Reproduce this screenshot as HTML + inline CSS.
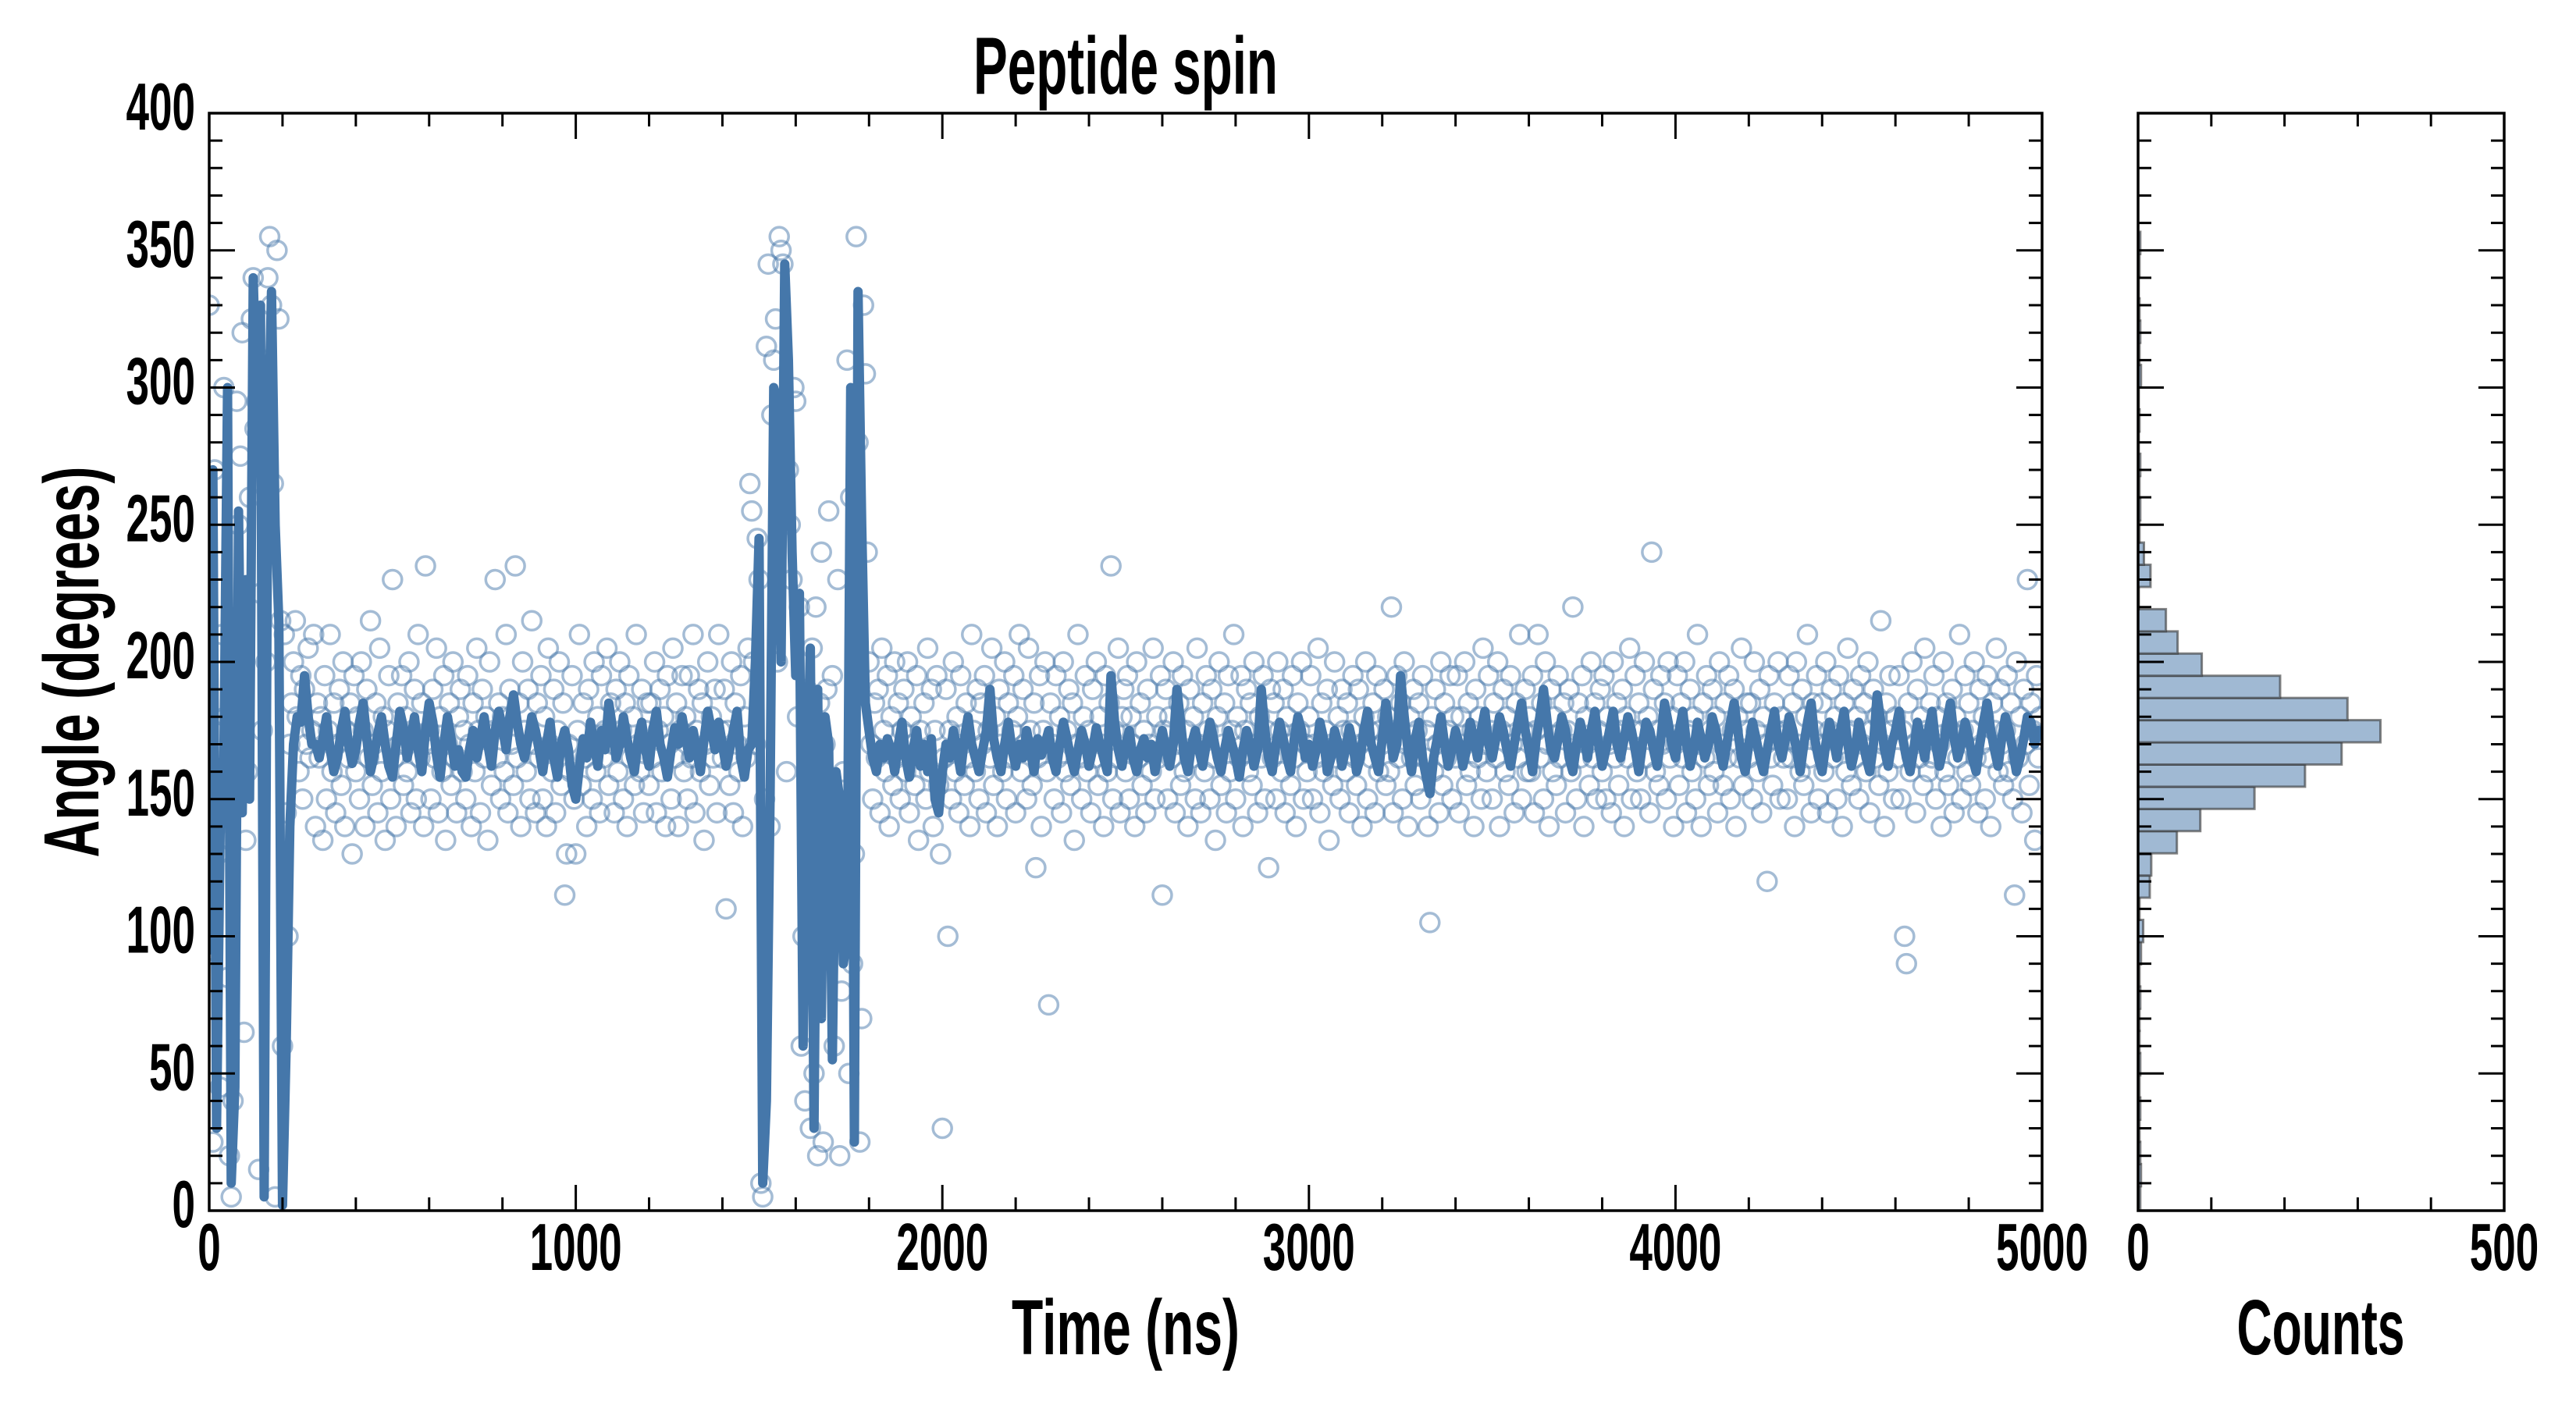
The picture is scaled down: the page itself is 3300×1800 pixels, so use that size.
<!DOCTYPE html>
<html><head><meta charset="utf-8"><style>
html,body{margin:0;padding:0;background:#fff;}
svg{display:block;}
text{font-family:"Liberation Sans Narrow","Liberation Sans",sans-serif;font-weight:bold;fill:#000;}
</style></head><body>
<svg id="chart" width="3300" height="1800" viewBox="0 0 3300 1800" xmlns="http://www.w3.org/2000/svg">
<defs><clipPath id="clipMain"><rect x="268" y="145" width="2348" height="1406"/></clipPath></defs>
<rect x="0" y="0" width="3300" height="1800" fill="#fff"/>
<g id="scatter" clip-path="url(#clipMain)"></g>
<g id="line" clip-path="url(#clipMain)"></g>
<g id="hist"></g>
<g id="axes"></g>
<text x="1442" y="120" font-size="104" text-anchor="middle" textLength="390" lengthAdjust="spacingAndGlyphs">Peptide spin</text>
<text x="1442" y="1735" font-size="100" text-anchor="middle" textLength="292" lengthAdjust="spacingAndGlyphs">Time (ns)</text>
<text x="2973" y="1735" font-size="100" text-anchor="middle" textLength="215" lengthAdjust="spacingAndGlyphs">Counts</text>
<text transform="translate(126,848) rotate(-90)" x="0" y="0" font-size="100" text-anchor="middle" textLength="501" lengthAdjust="spacingAndGlyphs">Angle (degrees)</text>
</svg>
<script>
const scatterStart = 0;
const scatterStep = 5;
const scatterValues = [
330,95,25,270,140,130,45,210,300,180,85,20,5,40,165,295,250,275,320,65,
135,160,260,325,340,285,295,15,225,175,310,200,340,355,330,265,5,350,325,215,
60,210,145,100,170,185,200,215,180,160,195,150,190,170,205,165,175,210,140,185,
165,180,135,195,150,175,210,160,185,145,170,190,155,200,140,175,165,185,130,195,
160,180,150,200,175,140,190,165,215,155,170,185,145,205,160,180,135,175,195,150,
230,165,140,185,170,195,155,180,160,200,145,175,190,150,210,165,185,140,235,170,
175,150,190,165,205,145,180,160,195,135,170,185,155,200,165,145,180,190,160,175,
150,195,170,140,185,160,205,175,145,190,165,180,135,200,155,175,230,165,185,150,
180,160,210,145,190,170,155,235,165,185,140,200,175,160,190,150,215,170,145,185,
165,195,150,180,140,205,170,160,190,145,175,200,155,185,115,130,170,160,195,150,
130,175,210,155,185,165,140,190,170,150,200,160,180,145,195,165,175,205,155,185,
170,145,190,160,200,175,150,185,140,195,165,180,155,210,170,160,190,145,175,185,
155,185,165,200,145,175,190,160,180,140,195,170,150,205,165,185,140,175,195,160,
180,150,195,165,210,145,175,190,160,185,135,170,200,155,180,165,190,145,210,175,
165,190,110,175,155,200,145,185,170,160,195,140,180,165,205,265,255,200,170,245,
230,10,5,150,315,345,140,290,310,325,200,355,350,345,260,160,270,250,230,300,
295,180,220,60,100,40,190,140,30,205,50,220,20,185,240,25,170,190,255,100,
195,60,150,230,20,80,160,110,310,50,260,90,130,355,280,25,70,330,305,240,
200,170,150,185,165,190,145,205,175,160,195,140,180,155,200,165,185,150,175,190,
160,200,145,180,170,155,195,135,175,165,185,150,205,160,190,140,175,195,155,130,
30,165,190,100,175,150,200,160,180,145,195,170,155,185,165,140,210,175,160,190,
150,185,170,195,145,175,165,205,155,180,140,190,170,160,200,150,185,165,175,195,
145,180,210,160,190,170,150,205,175,155,185,125,165,195,140,175,200,160,75,185,
170,150,195,165,180,145,200,160,175,190,155,185,135,170,210,165,150,180,195,160,
175,145,190,165,200,155,180,170,140,195,160,185,235,150,175,165,205,145,180,190,
160,195,150,180,170,140,200,165,185,155,175,145,190,170,160,205,150,180,165,195,
115,175,190,150,180,165,200,145,170,185,155,195,160,175,140,190,165,180,150,205,
170,145,185,160,195,175,150,190,165,135,180,200,155,170,185,145,195,160,175,210,
150,180,165,195,140,175,190,160,185,155,200,170,145,180,165,195,150,175,125,190,
165,185,150,200,175,160,190,145,180,170,155,195,165,140,185,175,200,150,170,160,
180,195,150,170,165,205,145,185,160,175,190,135,170,155,200,165,180,150,190,175,
160,185,145,175,195,165,155,190,170,140,180,200,150,175,165,185,145,195,160,175,
170,190,155,180,160,220,145,175,195,165,185,150,200,170,140,180,165,190,155,175,
185,150,195,165,175,140,105,180,160,190,170,145,200,155,185,165,175,195,150,180,
165,195,145,180,170,200,155,185,160,175,140,190,165,180,150,205,170,160,195,175,
150,185,165,200,140,175,190,160,180,155,195,170,145,185,165,210,150,175,190,160,
180,160,195,145,175,210,165,185,150,200,170,140,190,160,180,155,195,165,175,185,
145,175,190,160,220,170,150,185,165,195,140,180,170,155,200,165,185,150,175,190,
160,195,150,180,170,145,200,165,185,155,175,190,140,180,165,205,150,175,195,160,
185,150,175,200,165,180,145,240,190,160,175,155,195,170,185,150,200,165,180,140,
170,195,155,185,165,200,145,175,190,160,180,150,210,170,140,185,165,195,155,175,
190,160,180,145,200,170,155,185,165,195,150,175,190,140,180,165,205,155,175,185,
165,185,150,200,175,160,190,145,180,170,120,195,165,155,185,175,200,150,180,165,
175,150,195,165,185,140,200,170,160,190,155,180,210,165,145,185,175,195,150,170,
185,160,200,145,175,190,165,180,150,195,170,140,185,160,205,175,155,190,165,180,
150,195,170,185,160,200,145,175,190,165,180,155,215,170,140,185,160,195,175,150,
180,165,195,150,175,100,90,185,160,200,170,145,190,165,180,155,205,175,160,185,
165,195,150,180,170,140,200,160,185,155,175,190,145,180,165,210,150,175,195,160,
185,155,175,200,165,145,190,170,180,150,195,165,140,185,175,205,160,190,170,155,
175,195,160,185,150,115,200,165,180,145,190,170,230,155,185,175,135,195,165,180
];
const lineStart = 0;
const lineStep = 10;
const lineValues = [
95,270,30,140,165,300,10,45,255,145,230,150,340,290,330,5,275,335,250,215,2,60,140,170,180,178,195,180,170,
170,165,172,180,168,160,165,175,182,170,
163,168,178,185,172,160,166,174,180,170,
162,158,170,182,176,165,172,180,168,160,
175,185,178,166,158,170,180,172,162,168,
160,158,168,175,165,172,180,170,162,175,
182,176,168,180,188,178,170,165,172,180,
175,168,160,170,178,165,158,170,175,168,
155,150,162,172,165,178,170,162,175,168,
185,176,165,170,180,172,165,160,172,178,
168,162,175,182,170,165,158,168,176,170,
180,172,165,175,168,160,172,182,175,168,
178,170,162,168,175,182,165,158,168,
170,200,245,10,40,150,300,295,200,345,310,240,195,225,60,150,205,30,190,70,180,170,55,160,150,90,100,300,25,335,250,185,
175,165,160,170,165,172,168,160,170,178,
165,158,168,175,162,170,160,172,150,145,
160,170,165,175,168,160,172,180,170,165,
160,168,175,190,172,165,160,170,178,168,
162,170,165,175,168,160,172,166,170,175,
165,160,170,178,172,165,160,168,175,170,
162,168,176,170,165,160,195,178,168,162,
170,175,165,160,168,172,165,170,160,168,
175,168,162,170,190,178,165,160,170,175,
168,162,170,178,172,165,160,168,175,170,
165,158,168,175,170,162,168,190,175,165,
160,170,178,172,165,160,172,180,175,165,
170,162,168,178,172,160,165,175,170,162,
168,176,170,160,165,175,182,170,165,160,
172,185,175,165,170,195,180,168,160,172,
178,165,158,152,165,172,180,170,162,168,
175,170,162,168,178,172,165,175,182,170,
165,172,180,175,168,162,170,178,185,175,
168,160,172,180,190,178,168,165,172,180,
175,165,160,170,178,172,165,175,182,170,
162,168,175,182,170,165,172,180,175,168,
160,170,178,175,168,162,172,185,178,170,
165,175,182,170,162,168,178,172,165,170,
180,175,168,162,170,178,185,175,165,160,
170,178,172,165,160,168,175,182,170,165,
172,180,175,168,160,170,178,185,172,165,
160,170,178,172,165,175,182,170,162,168,
178,172,165,160,170,188,178,168,162,170,
175,182,172,165,160,168,178,172,165,175,
182,170,162,168,178,185,172,165,170,178,
172,165,160,170,178,185,175,168,162,172,
180,175,168,160,165,172,180,178,170,175
];
const histStart = 0.8;
const histBinWidth = 8.09;
const histCounts = [3,4,3,2,3,2,3,2,2,3,2,4,7,2,16,18,53,85,159,228,278,331,286,194,87,54,38,1,17,8,2,3,2,3,1,2,1,4,2,3,2,1,2,3];
const xTicks = [0,1000,2000,3000,4000,5000];
const yTicks = [0,50,100,150,200,250,300,350,400];
const countTicks = [0,500];

const NS = 'http://www.w3.org/2000/svg';
const X0 = 268, X1 = 2616, Y0 = 145, Y1 = 1551, H0 = 2739, H1 = 3208;
function xs(t){ return X0 + (t/5000)*(X1-X0); }
function ys(v){ return Y1 - (v/400)*(Y1-Y0); }
function hx(c){ return H0 + (c/500)*(H1-H0); }
function mk(tag, attrs, parent){
  const e = document.createElementNS(NS, tag);
  for (const k in attrs) e.setAttribute(k, attrs[k]);
  parent.appendChild(e);
  return e;
}
const gS = document.getElementById('scatter');
scatterValues.forEach((v,i)=>{
  const c = mk('circle',{cx:xs(scatterStart+i*scatterStep),cy:ys(v),r:12,fill:'none',stroke:'#4a7aab','stroke-opacity':0.5,'stroke-width':3.5},gS);
  
  
});
const gL = document.getElementById('line');
let d = '';
lineValues.forEach((v,i)=>{ d += (i?'L':'M') + xs(lineStart+i*lineStep).toFixed(1) + ',' + ys(v).toFixed(1); });
const pl = mk('path',{d:d,fill:'none',stroke:'#4577aa','stroke-width':12,'stroke-linejoin':'round','stroke-linecap':'round'},gL);


const gH = document.getElementById('hist');
histCounts.forEach((c,i)=>{
  const lo = histStart + i*histBinWidth, hi = lo + histBinWidth;
  const r = mk('rect',{x:H0,y:ys(hi),width:hx(c)-H0,height:ys(lo)-ys(hi),fill:'#a0b9d3',stroke:'#333','stroke-opacity':0.6,'stroke-width':3},gH);
  
  
});
const gA = document.getElementById('axes');
function line(x1,y1,x2,y2,w){ return mk('line',{x1:x1,y1:y1,x2:x2,y2:y2,stroke:'#000','stroke-width':w},gA); }
function label(txt,x,y,anchor,name){
  const t = mk('text',{x:x,y:y,'font-size':85,'text-anchor':anchor,textLength:txt.length*29.5,lengthAdjust:'spacingAndGlyphs'},gA);
  t.textContent = txt;
  
  
}
for (let t=0;t<=5000;t+=200){
  const x = xs(t), L = (t%1000===0)?33:17;
  line(x,Y1,x,Y1-L,3); line(x,Y0,x,Y0+L,3);
}
for (let v=0;v<=400;v+=10){
  const y = ys(v), L = (v%50===0)?33:17;
  line(X0,y,X0+L,y,3); line(X1,y,X1-L,y,3);
  line(H0,y,H0+L,y,3); line(H1,y,H1-L,y,3);
}
for (let c=0;c<=500;c+=100){
  const x = hx(c), L = (c%500===0)?33:17;
  line(x,Y1,x,Y1-L,3); line(x,Y0,x,Y0+L,3);
}
const f1 = mk('rect',{x:X0,y:Y0,width:X1-X0,height:Y1-Y0,fill:'none',stroke:'#000','stroke-width':3.5},gA);


const f2 = mk('rect',{x:H0,y:Y0,width:H1-H0,height:Y1-Y0,fill:'none',stroke:'#000','stroke-width':3.5},gA);


xTicks.forEach(t=>label(String(t), xs(t), 1627, 'middle', 'x-tick-label'));
yTicks.forEach(v=>label(String(v), 250, ys(v)+21, 'end', 'y-tick-label'));
countTicks.forEach(c=>label(String(c), hx(c), 1627, 'middle', 'count-tick-label'));
</script>
</body></html>
